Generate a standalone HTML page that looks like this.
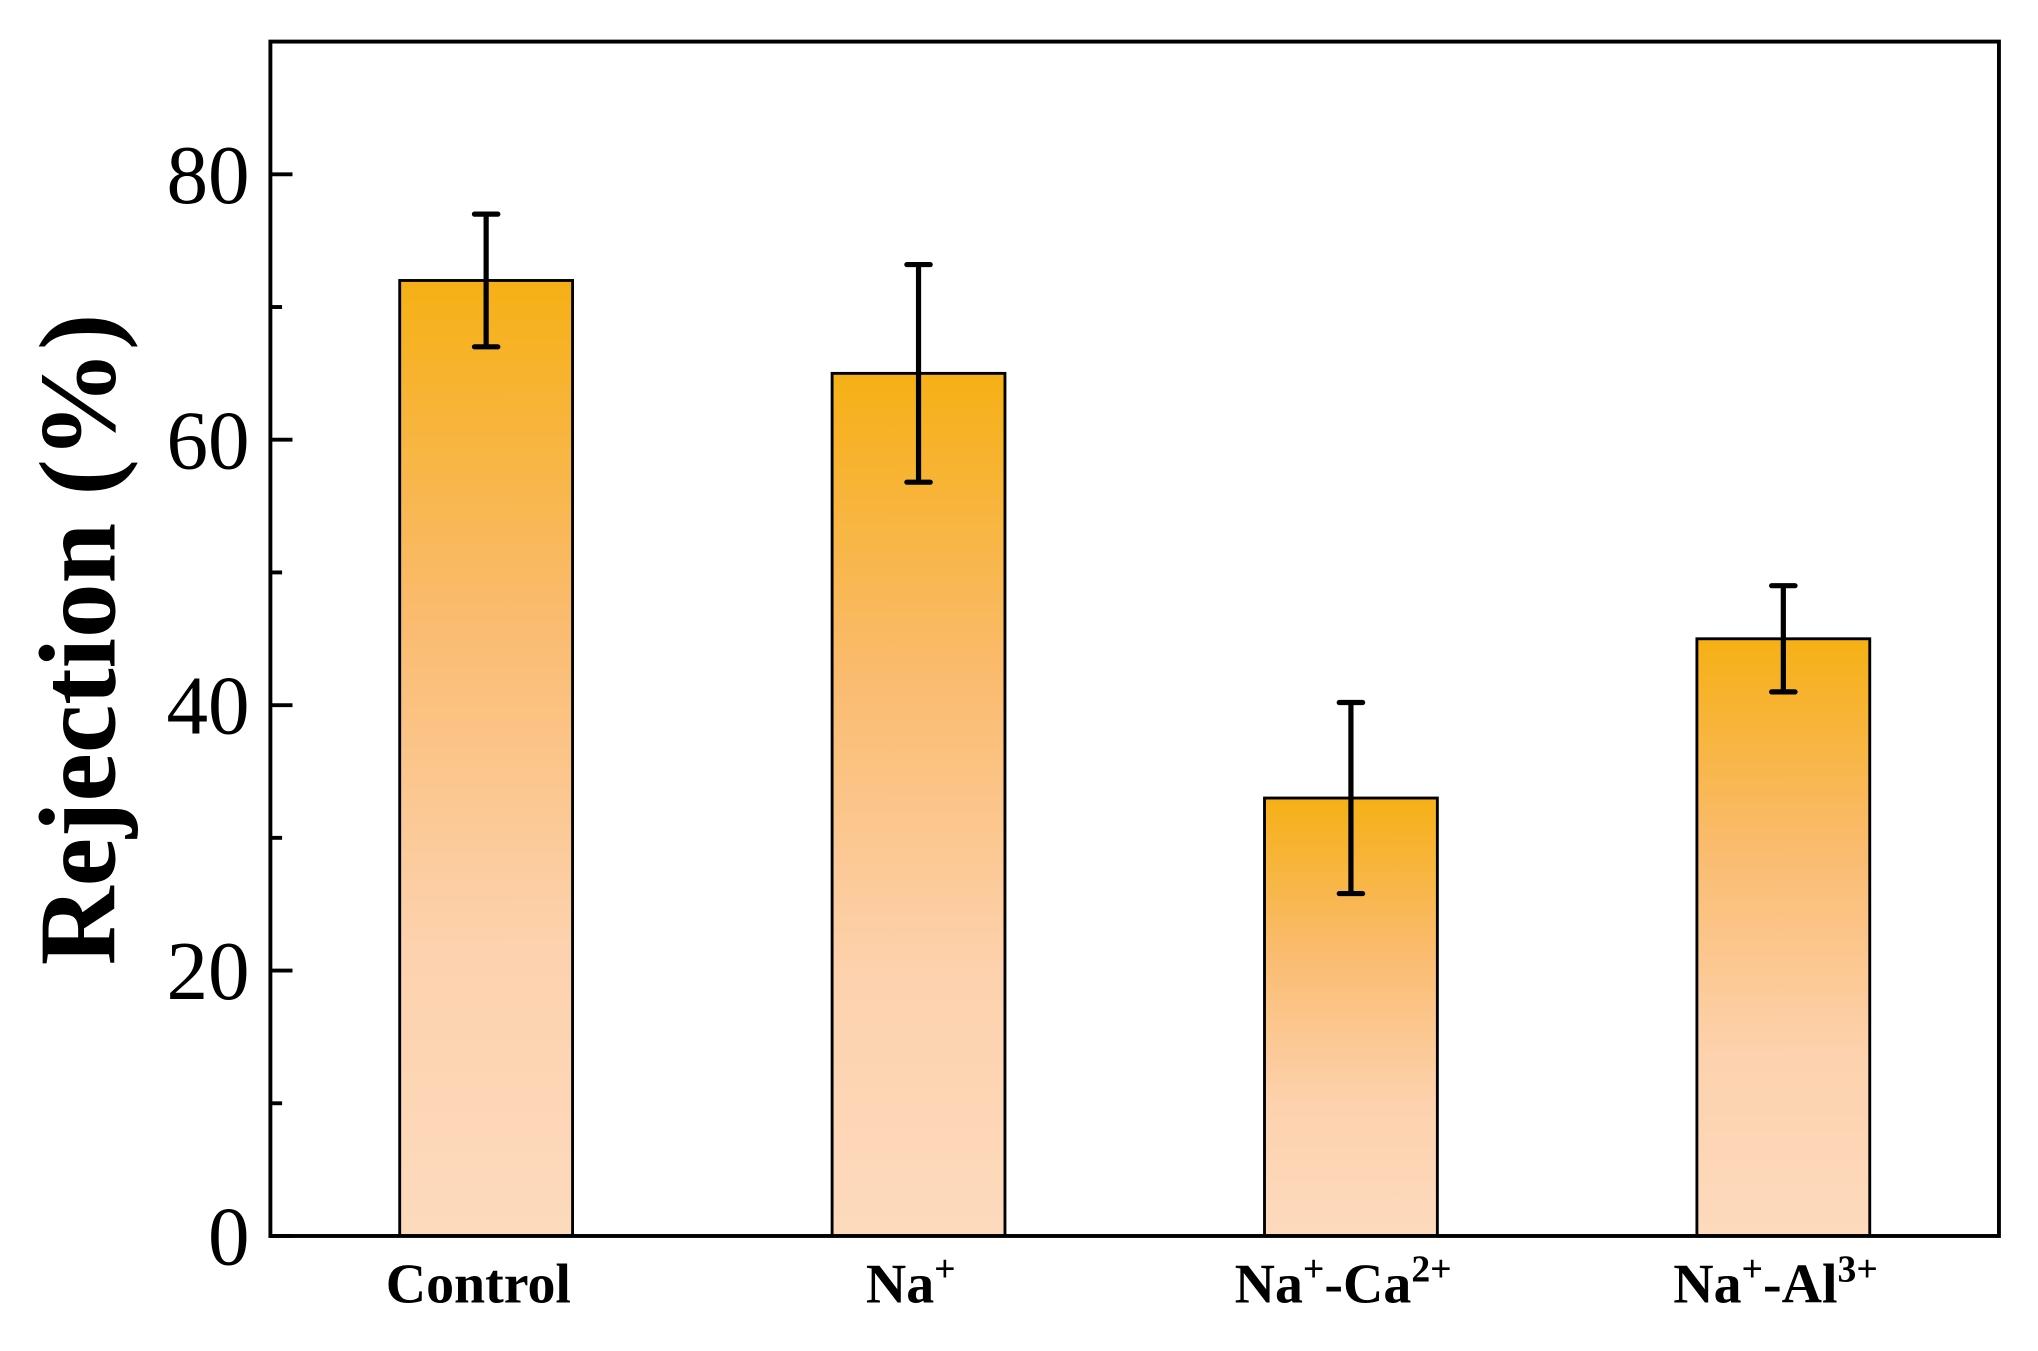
<!DOCTYPE html>
<html><head><meta charset="utf-8"><style>html,body{margin:0;padding:0;background:#fff}svg{display:block}</style></head>
<body>
<svg width="2038" height="1351" viewBox="0 0 1568 1039.5" xmlns="http://www.w3.org/2000/svg" font-family="'Liberation Serif', serif">
<defs>
<linearGradient id="g" x1="0" y1="0" x2="0" y2="1">
<stop offset="0" stop-color="#F6B015"/>
<stop offset="0.35" stop-color="#FABB6E"/>
<stop offset="0.7" stop-color="#FDD2AE"/>
<stop offset="1" stop-color="#FDDABD"/>
</linearGradient>
</defs>
<g id="plot"></g>
</svg>
<script>
const categories = ["Control", "Na+", "Na+-Ca2+", "Na+-Al3+"];
const values = [72, 65, 33, 45];
const errors = [5, 8.2, 7.2, 4];
const yTicks = [0, 20, 40, 60, 80];
const yMinor = [10, 30, 50, 70];

const L = 208, R = 1538, T = 32, B = 951, yMax = 90;
const ys = v => B - v / yMax * (B - T);
const xc = i => 374 + i * 332.7;
const bw = 133;
const NS = "http://www.w3.org/2000/svg";
const g = document.getElementById('plot');
function mk(tag, attrs, parent) { const e = document.createElementNS(NS, tag); for (const k in attrs) e.setAttribute(k, attrs[k]); (parent || g).appendChild(e); return e; }

values.forEach((v, i) => {
  const r = mk('rect', {x: xc(i) - bw / 2, y: ys(v), width: bw, height: B - ys(v), fill: 'url(#g)', stroke: '#000', 'stroke-width': 2.2});
  
  
  const e = mk('path', {d: `M${xc(i)},${ys(v + errors[i])}V${ys(v - errors[i])}M${xc(i) - 9},${ys(v + errors[i])}H${xc(i) + 9}M${xc(i) - 9},${ys(v - errors[i])}H${xc(i) + 9}`, stroke: '#000', 'stroke-width': 4, fill: 'none', 'stroke-linecap': 'round'});
  
  
});

const frame = mk('rect', {x: L, y: T, width: R - L, height: B - T, fill: 'none', stroke: '#000', 'stroke-width': 3});



yTicks.forEach(t => {
  mk('line', {x1: L, x2: L + 17, y1: ys(t), y2: ys(t), stroke: '#000', 'stroke-width': 3});
  const tx = mk('text', {x: 192, y: ys(t) + 22, 'text-anchor': 'end', 'font-size': 64});
  tx.textContent = t;
  
  
});
yMinor.forEach(t => mk('line', {x1: L, x2: L + 9, y1: ys(t), y2: ys(t), stroke: '#000', 'stroke-width': 3}));

const labels = [
  ['Control'],
  ['Na', '+'],
  ['Na', '+', '-Ca', '2+'],
  ['Na', '+', '-Al', '3+']
];
labels.forEach((parts, i) => {
  const t = mk('text', {x: xc(i) - 6, y: 1002, 'text-anchor': 'middle', 'font-size': 43, 'font-weight': 'bold'});
  parts.forEach((p, j) => {
    const s = mk('tspan', j % 2 ? {'font-size': 29, dy: -16} : (j > 0 ? {dy: 16} : {}), t);
    s.textContent = p;
  });
  
  
});

const yt = mk('text', {x: 0, y: 0, 'text-anchor': 'middle', 'font-size': 84, 'font-weight': 'bold', transform: 'translate(88,492) rotate(-90)'});
yt.textContent = 'Rejection (%)';


</script>
</body></html>
